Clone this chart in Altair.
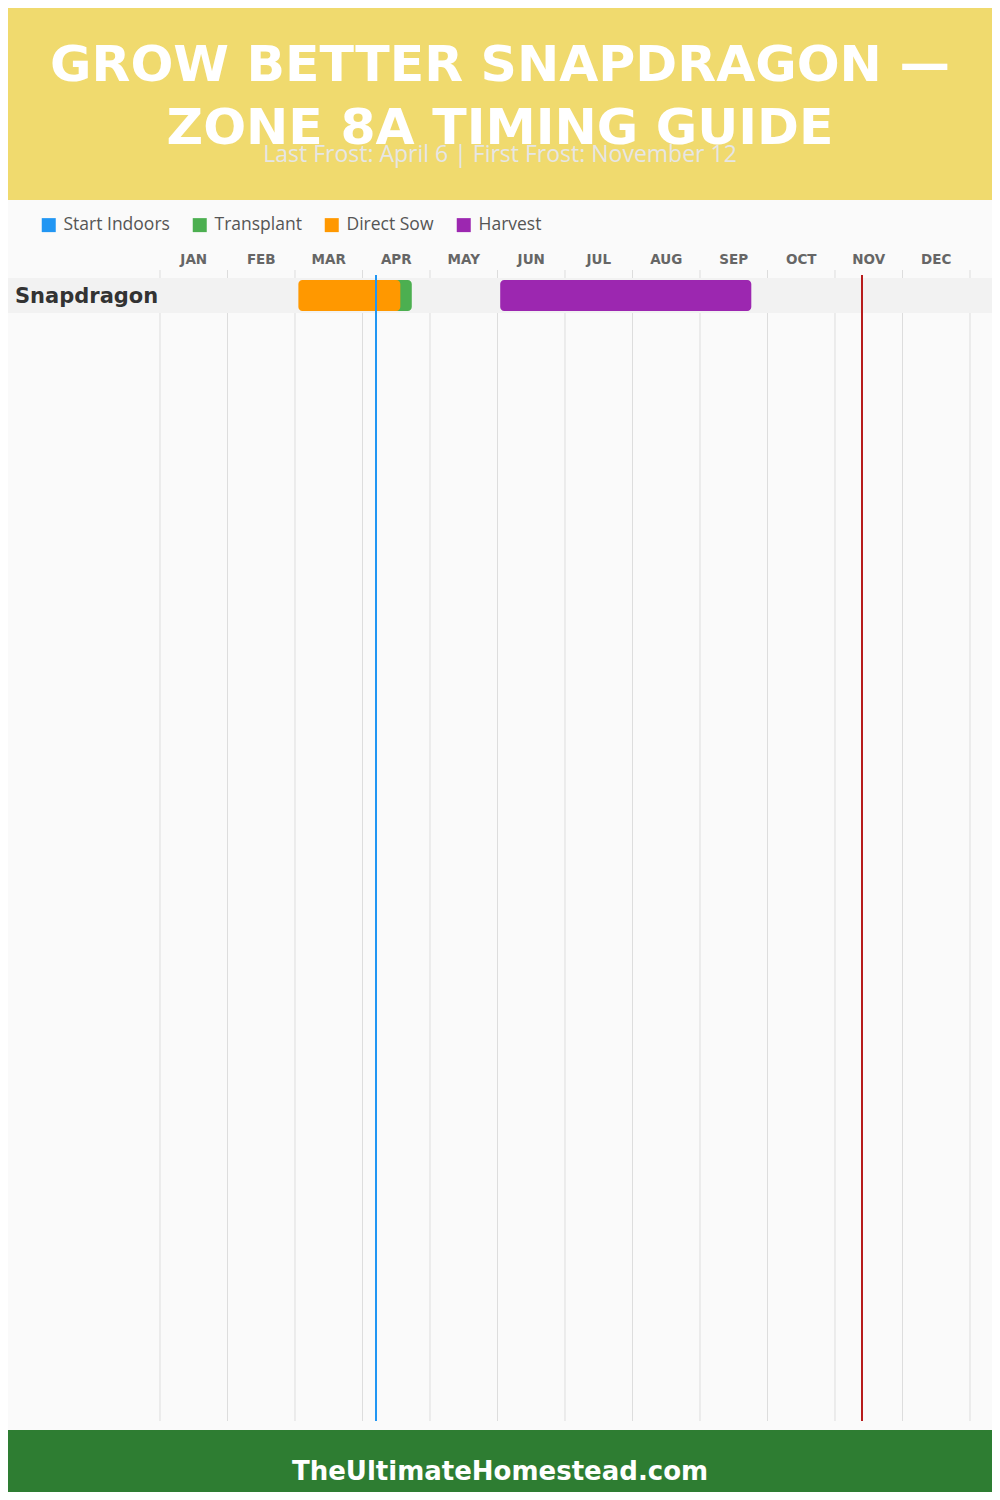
import altair as alt
import pandas as pd

# ---- data ----
months = ["JAN", "FEB", "MAR", "APR", "MAY", "JUN", "JUL", "AUG", "SEP", "OCT", "NOV", "DEC"]
crop = "Snapdragon"
phases = ["Start Indoors", "Transplant", "Direct Sow", "Harvest"]
phase_colors = ["#2196F3", "#4CAF50", "#FF9800", "#9C27B0"]
bar_phase = ["Transplant", "Direct Sow", "Harvest"]
bar_start = [3.2, 2.05, 5.04]   # month index (0 = Jan 1)
bar_end = [3.73, 3.56, 8.76]
last_frost = [3.2]    # April 6
first_frost = [10.4]  # November 12
title_lines = ["GROW BETTER SNAPDRAGON —", "ZONE 8A TIMING GUIDE"]
subtitle = "Last Frost: April 6 | First Frost: November 12"
footer = "TheUltimateHomestead.com"

W, H = 984, 1484
xs = alt.Scale(domain=[0, 12], range=[152, 962])
one = pd.DataFrame({"k": [0]})

header = alt.Chart(one).mark_rect(color="#F0DA6E").encode(
    x=alt.value(0), x2=alt.value(W), y=alt.value(0), y2=alt.value(192))
footer_band = alt.Chart(one).mark_rect(color="#2E7D32").encode(
    x=alt.value(0), x2=alt.value(W), y=alt.value(1422), y2=alt.value(H))

t1 = alt.Chart(pd.DataFrame({"t": [title_lines[0]]})).mark_text(
    font="DejaVu Sans", fontWeight="bold", fontSize=50.5, color="white", align="center", baseline="alphabetic"
).encode(text="t:N", x=alt.value(492), y=alt.value(73))
t2 = alt.Chart(pd.DataFrame({"t": [title_lines[1]]})).mark_text(
    font="DejaVu Sans", fontWeight="bold", fontSize=50.5, color="white", align="center", baseline="alphabetic"
).encode(text="t:N", x=alt.value(492), y=alt.value(136))
sub = alt.Chart(pd.DataFrame({"t": [subtitle]})).mark_text(
    font="Open Sans", fontSize=23, color="#e6e6e6", align="center", baseline="alphabetic"
).encode(text="t:N", x=alt.value(492), y=alt.value(154))
foot = alt.Chart(pd.DataFrame({"t": [footer]})).mark_text(
    font="DejaVu Sans", fontWeight="bold", fontSize=26, color="white", align="center", baseline="alphabetic"
).encode(text="t:N", x=alt.value(492), y=alt.value(1472))

grid = alt.Chart(pd.DataFrame({"b": list(range(13))})).mark_rule(color="#dddddd", strokeWidth=1).encode(
    x=alt.X("b:Q", scale=xs, axis=None), y=alt.value(262), y2=alt.value(1413))

row_band = alt.Chart(one).mark_rect(color="#f2f2f2").encode(
    x=alt.value(0), x2=alt.value(W), y=alt.value(270), y2=alt.value(305))

month_df = pd.DataFrame({"m": months, "c": [i + 0.5 for i in range(12)]})
month_labels = alt.Chart(month_df).mark_text(
    font="DejaVu Sans", fontWeight="bold", fontSize=13.5, color="#666666", align="center", baseline="alphabetic"
).encode(x=alt.X("c:Q", scale=xs, axis=None), y=alt.value(256), text="m:N")

bars_df = pd.DataFrame({"crop": [crop] * 3, "phase": bar_phase, "start": bar_start, "end": bar_end})
ys = alt.Scale(domain=[crop], range=[272, 303], paddingInner=0, paddingOuter=0)
bars = alt.Chart(bars_df).mark_bar(cornerRadius=4).encode(
    x=alt.X("start:Q", scale=xs, axis=None),
    x2="end:Q",
    y=alt.Y("crop:N", scale=ys, axis=None),
    color=alt.Color("phase:N", scale=alt.Scale(domain=phases, range=phase_colors),
                    legend=alt.Legend(orient="none", legendX=32, legendY=208, direction="horizontal",
                                      title=None, symbolType="square", symbolSize=196,
                                      symbolStrokeWidth=0, symbolOpacity=1,
                                      labelFont="Open Sans", labelFontSize=17.5, labelColor="#555555",
                                      columnPadding=21, labelOffset=6)),
)

crop_label = alt.Chart(pd.DataFrame({"crop": [crop]})).mark_text(
    font="DejaVu Sans", fontWeight="bold", fontSize=21, color="#333333", align="left", baseline="alphabetic"
).encode(x=alt.value(7), y=alt.value(295), text="crop:N")

lf = alt.Chart(pd.DataFrame({"d": last_frost})).mark_rule(color="#2196F3", strokeWidth=2).encode(
    x=alt.X("d:Q", scale=xs, axis=None), y=alt.value(267), y2=alt.value(1413))
ff = alt.Chart(pd.DataFrame({"d": first_frost})).mark_rule(color="#B71C1C", strokeWidth=2).encode(
    x=alt.X("d:Q", scale=xs, axis=None), y=alt.value(267), y2=alt.value(1413))

chart = alt.layer(
    header, footer_band, t1, t2, sub, foot, grid, row_band, month_labels, bars, crop_label, lf, ff
).properties(
    width=W, height=H, padding=0, autosize=alt.AutoSizeParams(type="none"), background="#fafafa"
).configure_view(stroke=None)

chart.save("out.html", embed_options={"renderer": "svg", "actions": False})
